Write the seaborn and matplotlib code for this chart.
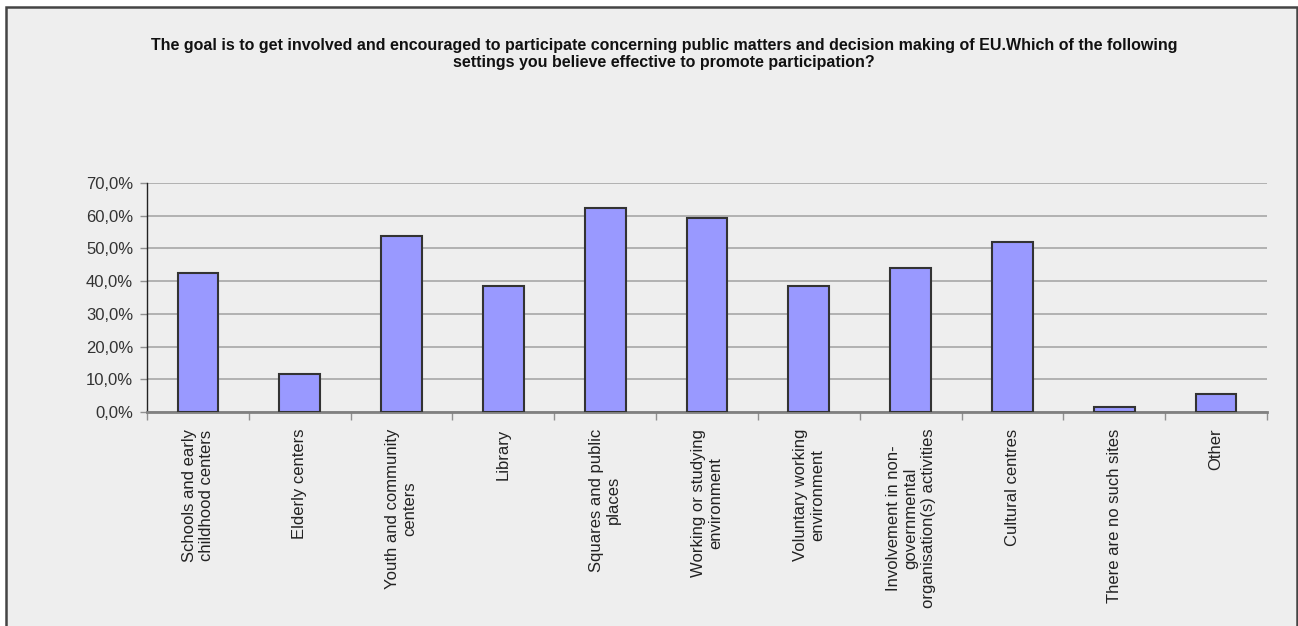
import numpy as np
import matplotlib
matplotlib.use("Agg")
import matplotlib.pyplot as plt
import seaborn as sns
from matplotlib.patches import Rectangle
from matplotlib.ticker import FixedLocator, FixedFormatter

# Data
categories = [
    "Schools and early\nchildhood centers",
    "Elderly centers",
    "Youth and community\ncenters",
    "Library",
    "Squares and public\nplaces",
    "Working or studying\nenvironment",
    "Voluntary working\nenvironment",
    "Involvement in non-\ngovernmental\norganisation(s) activities",
    "Cultural centres",
    "There are no such sites",
    "Other",
]
values = [42.6, 11.7, 53.7, 38.6, 62.3, 59.3, 38.6, 44.1, 52.0, 1.5, 5.6]
y_ticks = [0, 10, 20, 30, 40, 50, 60, 70]
y_tick_labels = ["0,0%", "10,0%", "20,0%", "30,0%", "40,0%", "50,0%", "60,0%", "70,0%"]
title = ("The goal is to get involved and encouraged to participate concerning public matters "
         "and decision making of EU.Which of the following\n"
         "settings you believe effective to promote participation?")

sns.set_theme(style="white")
plt.rcParams["font.family"] = ["Liberation Sans", "DejaVu Sans"]

W, H = 1298, 626
fig = plt.figure(figsize=(W / 100, H / 100), dpi=100, facecolor="white")

# grey panel with a dark frame (no bottom edge visible in the crop)
fig.patches.append(Rectangle((6 / W, -0.05), 1291 / W, (H - 7) / H + 0.05,
                             transform=fig.transFigure, facecolor="#EEEEEE",
                             edgecolor="#444444", linewidth=1.8, zorder=-1))

ax = fig.add_axes([147 / W, (H - 412) / H, (1267 - 147) / W, (412 - 183) / H])
ax.set_zorder(2)
ax.set_facecolor("#EEEEEE")

sns.barplot(x=categories, y=values, color="#9999FF", edgecolor="#333333",
            linewidth=1.5, width=0.4, saturation=1, ax=ax, zorder=3)

ax.set_ylim(0, 70)
ax.set_xlim(-0.5, len(categories) - 0.5)
ax.yaxis.set_major_locator(FixedLocator(y_ticks))
ax.yaxis.set_major_formatter(FixedFormatter(y_tick_labels))
ax.grid(axis="y", color="#A6A6A6", linewidth=1.2, zorder=0)
ax.set_axisbelow(True)

# x ticks sit between categories, labels at the bars
ax.set_xticks(np.arange(len(categories)))
ax.set_xticklabels(categories, rotation=90, ha="center", va="top", fontsize=12,
                   color="#222222", multialignment="center")
ax.tick_params(axis="x", length=0, pad=12)
ax.set_xticks(np.arange(len(categories) + 1) - 0.5, minor=True)
ax.tick_params(axis="x", which="minor", length=6, width=1, color="#909090",
               direction="out", bottom=True)
ax.tick_params(axis="y", length=5, width=1, color="#909090", labelsize=12,
               labelcolor="#333333", pad=5, left=True)

for side in ["top", "right"]:
    ax.spines[side].set_visible(False)
ax.spines["left"].set_color("#222222")
ax.spines["left"].set_linewidth(1)
ax.spines["bottom"].set_color("#808080")
ax.spines["bottom"].set_linewidth(2)

fig.text(664 / W, 1 - 38 / H, title, ha="center", va="top", fontsize=11.5,
         fontweight="bold", color="#111111", linespacing=1.2)

fig.savefig("out.png", dpi=100, facecolor="white")
